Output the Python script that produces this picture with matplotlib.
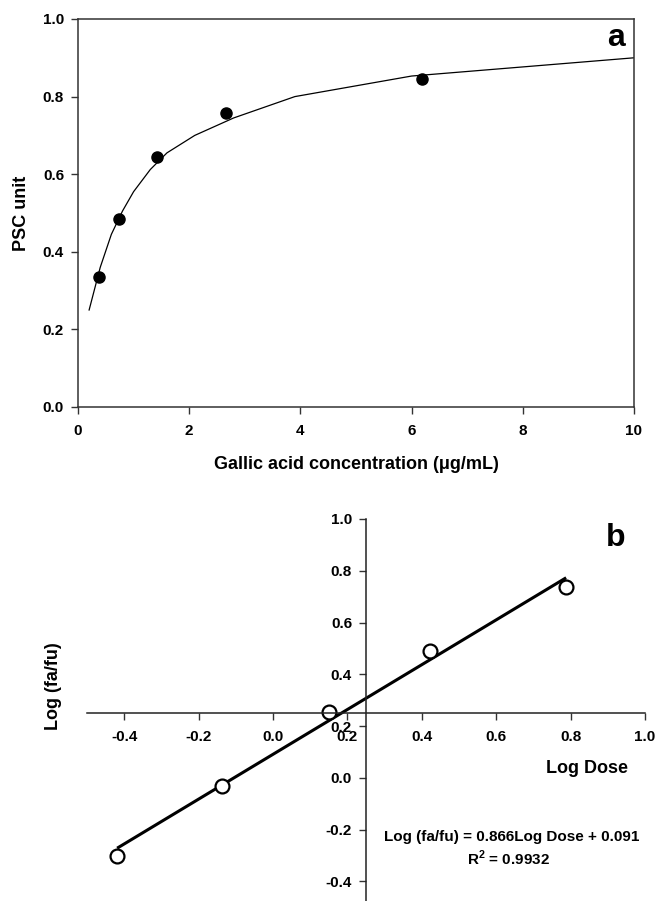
import matplotlib
matplotlib.use("Agg")
import matplotlib.pyplot as plt
import numpy as np

plt.rcParams['font.family'] = ['Liberation Sans', 'DejaVu Sans']
plt.rcParams['font.weight'] = 'bold'
plt.rcParams['mathtext.fontset'] = 'custom'
plt.rcParams['mathtext.rm'] = 'Liberation Sans:bold'
plt.rcParams['mathtext.bf'] = 'Liberation Sans:bold'

# panel a - PSC unit vs gallic acid concentration
conc = [0.38, 0.73, 1.42, 2.67, 6.19]
psc = [0.336, 0.484, 0.645, 0.757, 0.845]
curve_x = [0.2, 0.4, 0.6, 0.8, 1.0, 1.3, 1.6, 2.1, 2.8, 3.9, 6.0, 10.0]
curve_y = [0.25, 0.36, 0.445, 0.505, 0.555, 0.612, 0.655, 0.70, 0.745, 0.80, 0.853, 0.90]

# panel b - median effect plot
log_dose = [-0.419, -0.137, 0.151, 0.422, 0.788]
log_fafu = [-0.302, -0.031, 0.256, 0.489, 0.736]
fit_x = [-0.419, 0.788]
fit_y = [-0.272, 0.773]

fig = plt.figure(figsize=(6.55, 9.01), dpi=100)

# ---- a ----
ax1 = fig.add_axes([78/655, 1-407/901, 556/655, 388/901])
ax1.plot(curve_x, curve_y, color='black', lw=0.9)
ax1.plot(conc, psc, 'o', color='black', ms=8)
ax1.set_xlim(0, 10)
ax1.set_ylim(0, 1.0)
ax1.set_xticks([0, 2, 4, 6, 8, 10])
ax1.set_yticks(np.arange(0, 1.01, 0.2))
ax1.set_yticklabels(['%.1f' % v for v in np.arange(0, 1.01, 0.2)])
ax1.tick_params(direction='out', length=5, width=1, labelsize=11, color='#333333')
ax1.tick_params(axis='x', pad=7)
ax1.tick_params(axis='y', pad=5)
for s in ax1.spines.values():
    s.set_linewidth(1.1)
    s.set_color('#333333')
ax1.set_xlabel('Gallic acid concentration (\u03bcg/mL)', fontsize=13, fontweight='bold')
ax1.xaxis.set_label_coords(0.5, -0.126)
ax1.set_ylabel('PSC unit', fontsize=13, fontweight='bold')
ax1.yaxis.set_label_coords(-0.086, 0.5)
ax1.text(9.68, 0.951, 'a', fontsize=23, fontweight='bold', ha='center', va='center')

# ---- b ----
ax2 = fig.add_axes([87/655, 0, 558/655, 382/901])
ax2.plot(fit_x, fit_y, color='black', lw=2.2, solid_capstyle='butt')
ax2.plot(log_dose, log_fafu, 'o', mfc='white', mec='black', mew=1.6, ms=10)
ax2.set_xlim(-0.5, 1.0)
ax2.set_ylim(-0.476, 1.0)
ax2.spines['top'].set_visible(False)
ax2.spines['right'].set_visible(False)
ax2.spines['left'].set_position(('data', 0.25))
ax2.spines['bottom'].set_position(('data', 0.25))
for s in ax2.spines.values():
    s.set_linewidth(1.1)
    s.set_color('#222222')
xt = np.arange(-0.4, 1.01, 0.2)
yt = np.arange(-0.4, 1.01, 0.2)
ax2.set_xticks(xt)
ax2.set_xticklabels(['%.1f' % (v + 0.0) for v in np.round(xt, 1)])
ax2.set_yticks(yt)
ax2.set_yticklabels(['%.1f' % (v + 0.0) for v in np.round(yt, 1)])
ax2.tick_params(direction='out', length=5, width=1, labelsize=11, color='#333333')
ax2.tick_params(axis='x', pad=7)
ax2.tick_params(axis='y', pad=5)
ax2.set_ylabel('Log (fa/fu)', fontsize=13, fontweight='bold')
ax2.yaxis.set_label_coords(-0.045, 0.563)
ax2.text(0.843, 0.035, 'Log Dose', fontsize=13, fontweight='bold', ha='center', va='center')
ax2.text(0.922, 0.928, 'b', fontsize=23, fontweight='bold', ha='center', va='center')
ax2.text(0.641, -0.228, 'Log (fa/fu) = 0.866Log Dose + 0.091', fontsize=11,
         fontweight='bold', ha='center', va='center')
ax2.text(0.633, -0.313, 'R$^2$ = 0.9932', fontsize=11, fontweight='bold',
         ha='center', va='center')

fig.savefig('out.png', dpi=100)
